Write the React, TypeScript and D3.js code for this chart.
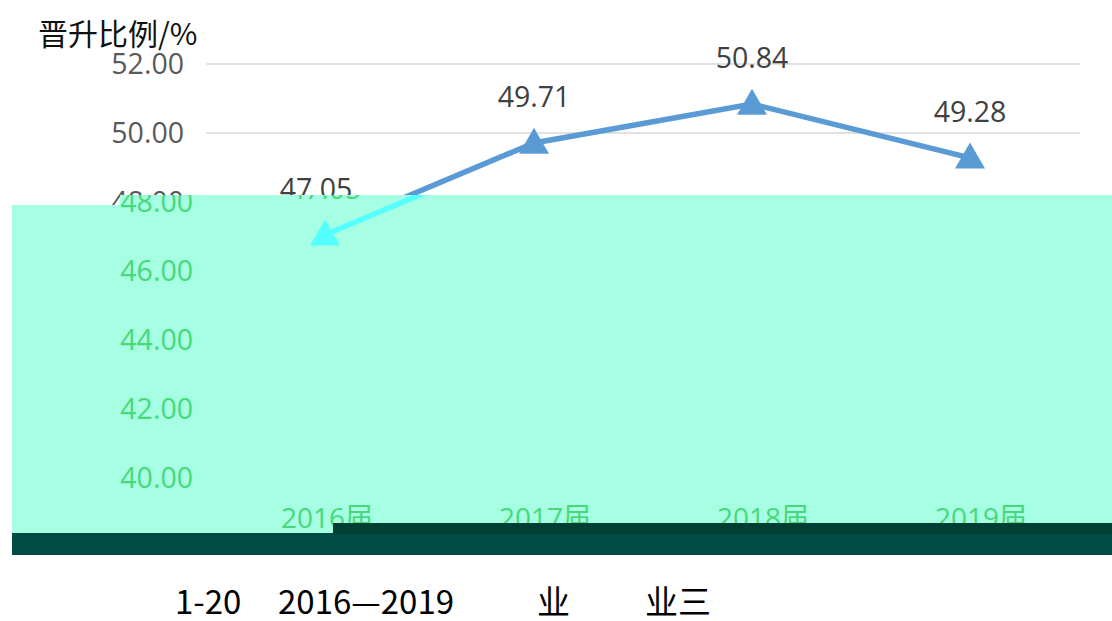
import * as d3 from "d3";

const categories = ["2016届", "2017届", "2018届", "2019届"];
const values = [47.05, 49.71, 50.84, 49.28];
const yTicks = [40, 42, 44, 46, 48, 50, 52];
const yTitle = "晋升比例/%";
const captionParts = ["1-20", "2016—2019", "业", "业三"];
const captionX = [175, 278, 537, 645];

const W = 1112;
const H = 621;
const NUM_FONT = "'Open Sans', 'Noto Sans CJK SC', sans-serif";

const x = d3.scaleBand<string>().domain(categories).range([207, 1079]);
const y = d3.scaleLinear().domain([40, 52]).range([478, 64]);
const cx = (c: string) => (x(c) ?? 0) + x.bandwidth() / 2;

const line = d3
  .line<number>()
  .x((_, i) => cx(categories[i]))
  .y(d => y(d));

const tri = d3.symbol().type(d3.symbolTriangle).size(390);

interface Palette {
  tick: string;
  label: string;
  series: string;
  grid: string | null;
}

const normal: Palette = { tick: "#595959", label: "#404040", series: "#5b9bd5", grid: "#d9d9d9" };
const glitch: Palette = { tick: "#47d87c", label: "#47d87c", series: "#55ffff", grid: null };

function Chart({ p }: { p: Palette }) {
  return (
    <g>
      {p.grid &&
        yTicks.map(t => (
          <line key={t} x1={206} x2={1080} y1={y(t)} y2={y(t)} stroke={p.grid} strokeWidth={1.5} />
        ))}
      {yTicks.map(t => (
        <text key={t} x={184} y={y(t)} dy="0.36em" textAnchor="end" fontSize={28.5} fill={p.tick} fontFamily={NUM_FONT}>
          {t.toFixed(2)}
        </text>
      ))}
      {categories.map(c => (
        <text key={c} x={cx(c) + 2} y={528} textAnchor="middle" fontSize={28} fill={p.tick} fontFamily={NUM_FONT}>
          {c}
        </text>
      ))}
      <path d={line(values) ?? ""} fill="none" stroke={p.series} strokeWidth={5.5} />
      {values.map((v, i) => (
        <path key={i} d={tri() ?? ""} transform={`translate(${cx(categories[i])},${y(v) + 2})`} fill={p.series} />
      ))}
      {values.map((v, i) => (
        <text key={i} x={cx(categories[i])} y={y(v) - 36} textAnchor="middle" fontSize={28.5} fill={p.label} fontFamily={NUM_FONT}>
          {v.toFixed(2)}
        </text>
      ))}
    </g>
  );
}

export default function App() {
  return (
    <svg width={W} height={H} style={{ position: "absolute", left: 0, top: 0, background: "#fff" }}>
      <defs>
        <clipPath id="mint">
          <rect x={12} y={205} width={W - 12} height={318} />
          <rect x={120} y={195} width={W - 120} height={12} />
          <rect x={12} y={520} width={321} height={13} />
        </clipPath>
      </defs>
      <rect width={W} height={H} fill="#fff" />
      <text x={38} y={45} fontSize={30} fill="#111" fontFamily="'Noto Sans CJK SC', serif">
        {yTitle}
      </text>
      <Chart p={normal} />
      <rect x={12} y={205} width={W - 12} height={330} fill="#a6ffe2" />
      <rect x={120} y={195} width={W - 120} height={12} fill="#a6ffe2" />
      <g clipPath="url(#mint)">
        <g transform="translate(9,0)">
          <Chart p={glitch} />
        </g>
      </g>
      <rect x={12} y={533} width={W - 12} height={22} fill="#004b44" />
      <rect x={333} y={523} width={W - 333} height={11} fill="#003f33" />
      {captionParts.map((t, i) => (
        <text key={i} x={captionX[i]} y={614} fontSize={33} fill="#000" fontFamily="'Noto Sans CJK SC', sans-serif">
          {t}
        </text>
      ))}
    </svg>
  );
}
